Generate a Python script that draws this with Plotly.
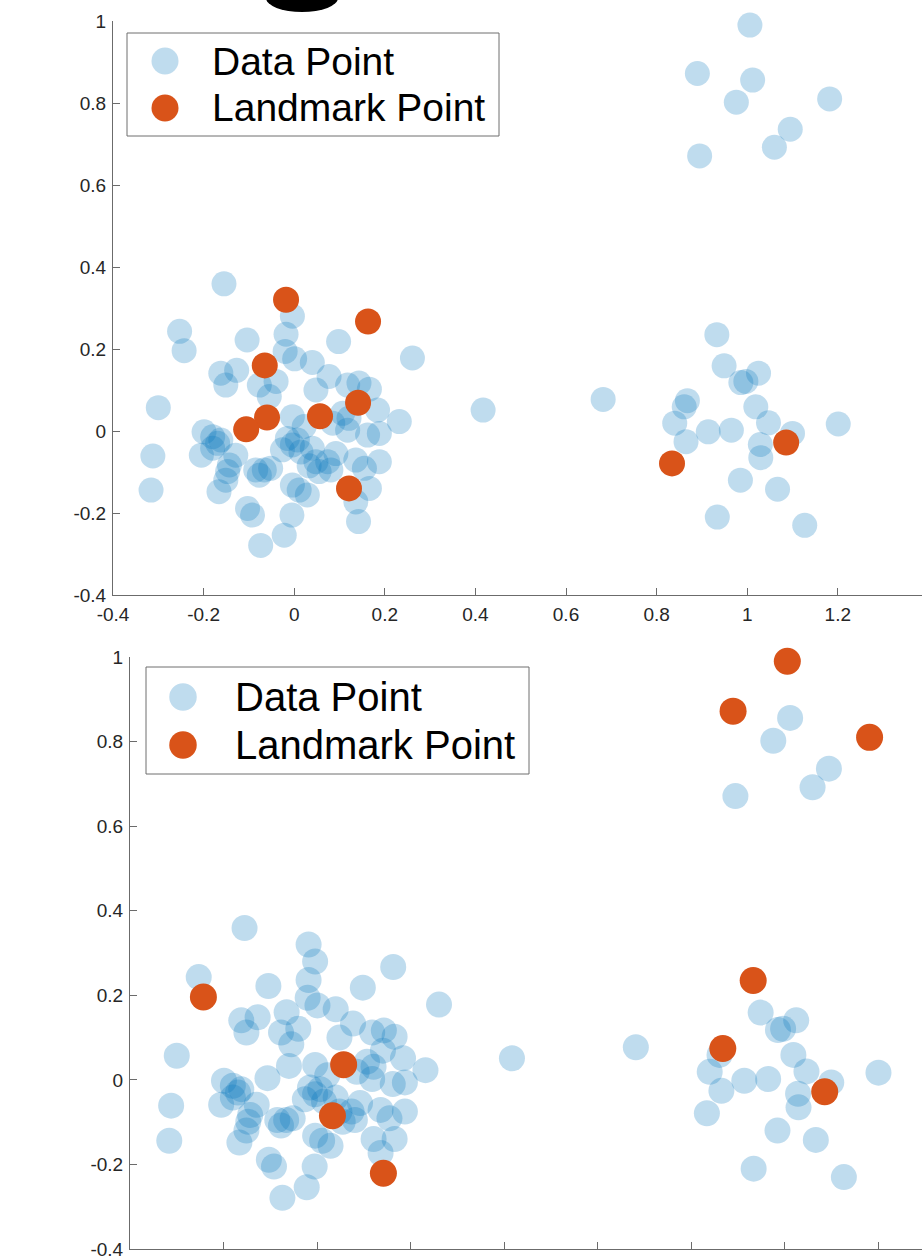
import plotly.graph_objects as go

# ---------------- data ----------------
data_x = [
    -0.155, -0.253, -0.243, -0.300, -0.312, -0.316, -0.104, -0.004, -0.018, -0.020,
    0.001, 0.040, 0.098, 0.261, 0.417, 0.077, 0.048, -0.162, -0.127, -0.151,
    -0.077, -0.040, -0.055, 0.118, 0.143, 0.166, 0.184, 0.232, 0.107, 0.121,
    0.085, 0.118, 0.162, 0.188, -0.004, 0.022, -0.015, -0.004, 0.007, 0.015,
    -0.199, -0.180, -0.169, -0.162, -0.180, -0.205, -0.129, -0.143, -0.147, -0.151,
    -0.166, -0.103, -0.092, -0.074, -0.022, -0.005, -0.085, -0.066, -0.052, -0.077,
    -0.004, 0.011, 0.029, 0.033, 0.048, 0.055, 0.074, 0.081, 0.092, 0.136,
    0.155, 0.188, 0.166, 0.136, 0.142, 0.040, -0.026,
    -0.018, 0.163, -0.065, -0.060, -0.106, 0.057, 0.141, 0.121,
    0.682,
    0.933, 0.949, 1.025, 0.997, 0.986, 0.868, 0.861, 0.840, 0.865, 0.914,
    0.965, 1.019, 1.047, 1.100, 1.029, 1.030, 0.985, 1.067, 0.934, 1.127,
    1.201, 0.834, 1.086,
    1.006, 0.890, 1.012, 0.976, 1.182, 1.095, 1.060, 0.895,
]
data_y = [
    0.359, 0.243, 0.196, 0.057, -0.061, -0.144, 0.222, 0.280, 0.236, 0.194,
    0.176, 0.167, 0.218, 0.178, 0.051, 0.133, 0.100, 0.141, 0.148, 0.112,
    0.112, 0.121, 0.084, 0.112, 0.117, 0.102, 0.051, 0.023, 0.043, 0.031,
    0.019, 0.002, -0.010, -0.006, 0.035, 0.011, -0.018, -0.034, -0.022, -0.051,
    -0.002, -0.014, -0.030, -0.022, -0.042, -0.059, -0.059, -0.083, -0.099, -0.120,
    -0.148, -0.189, -0.205, -0.279, -0.254, -0.205, -0.095, -0.095, -0.091, -0.108,
    -0.132, -0.144, -0.156, -0.085, -0.075, -0.099, -0.075, -0.095, -0.055, -0.071,
    -0.091, -0.075, -0.140, -0.173, -0.221, -0.042, -0.046,
    0.320, 0.267, 0.160, 0.033, 0.004, 0.036, 0.069, -0.140,
    0.077,
    0.235, 0.159, 0.141, 0.121, 0.118, 0.074, 0.059, 0.019, -0.026, -0.002,
    0.002, 0.059, 0.020, -0.006, -0.033, -0.065, -0.120, -0.142, -0.210, -0.230,
    0.017, -0.079, -0.028,
    0.990, 0.872, 0.856, 0.802, 0.810, 0.736, 0.692, 0.671,
]

top_landmark_x = [-0.018, 0.163, -0.065, -0.060, -0.106, 0.057, 0.141, 0.121, 0.834, 1.086]
top_landmark_y = [0.320, 0.267, 0.160, 0.033, 0.004, 0.036, 0.069, -0.140, -0.079, -0.028]

bottom_landmark_x = [-0.243, 0.057, 0.033, 0.142, 0.890, 1.006, 1.182, 0.933, 0.868, 1.086]
bottom_landmark_y = [0.196, 0.036, -0.085, -0.221, 0.872, 0.990, 0.810, 0.235, 0.074, -0.028]

x_tick_vals = [-0.4, -0.2, 0, 0.2, 0.4, 0.6, 0.8, 1.0, 1.2]
x_tick_text = ["-0.4", "-0.2", "0", "0.2", "0.4", "0.6", "0.8", "1", "1.2"]
y_tick_vals = [-0.4, -0.2, 0, 0.2, 0.4, 0.6, 0.8, 1.0]
y_tick_text = ["-0.4", "-0.2", "0", "0.2", "0.4", "0.6", "0.8", "1"]

legend_labels = ["Data Point", "Landmark Point"]

# ---------------- styles ----------------
W, H = 922, 1258
BLUE = "rgba(0,114,189,0.25)"
ORANGE = "#D95319"
AXIS_COLOR = "#6b6b6b"
FONT_FAMILY = "Liberation Sans, Arial, sans-serif"
TICK_FONT = dict(family=FONT_FAMILY, size=19, color="#262626")


def px(p):
    return p / W


def py(p):
    return 1 - p / H


# panel geometry (pixels) and scale
top_left, top_top, top_bottom = 113, 21, 595
top_xscale = 453.0
bot_left, bot_top, bot_bottom = 130, 657, 1249
bot_xscale = 467.5

top_xrange = [-0.4, -0.4 + (W - top_left) / top_xscale]
bot_xrange = [-0.4, -0.4 + (W - bot_left) / bot_xscale]

fig = go.Figure()

fig.add_trace(go.Scatter(
    x=data_x, y=data_y, mode="markers", name=legend_labels[0],
    marker=dict(size=25, color=BLUE, line=dict(width=0)),
    xaxis="x", yaxis="y", showlegend=False, cliponaxis=False))
fig.add_trace(go.Scatter(
    x=top_landmark_x, y=top_landmark_y, mode="markers", name=legend_labels[1],
    marker=dict(size=26, color=ORANGE, line=dict(width=0)),
    xaxis="x", yaxis="y", showlegend=False, cliponaxis=False))
fig.add_trace(go.Scatter(
    x=data_x, y=data_y, mode="markers", name=legend_labels[0],
    marker=dict(size=26, color=BLUE, line=dict(width=0)),
    xaxis="x2", yaxis="y2", showlegend=False, cliponaxis=False))
fig.add_trace(go.Scatter(
    x=bottom_landmark_x, y=bottom_landmark_y, mode="markers", name=legend_labels[1],
    marker=dict(size=27, color=ORANGE, line=dict(width=0)),
    xaxis="x2", yaxis="y2", showlegend=False, cliponaxis=False))

axis_common = dict(
    showline=True, linecolor=AXIS_COLOR, linewidth=1, mirror=False,
    ticks="inside", ticklen=7, tickwidth=1, tickcolor=AXIS_COLOR,
    showgrid=False, zeroline=False, tickfont=TICK_FONT, fixedrange=True,
    automargin=False, ticklabeloverflow="allow",
)

fig.update_layout(
    width=W, height=H, autosize=False,
    margin=dict(l=0, r=0, t=0, b=0, pad=0, autoexpand=False),
    paper_bgcolor="white", plot_bgcolor="white",
    showlegend=False,
    xaxis=dict(domain=[px(top_left), 1], range=top_xrange, anchor="y",
               tickvals=x_tick_vals, ticktext=x_tick_text, ticklabelstandoff=2, **axis_common),
    yaxis=dict(domain=[py(top_bottom), py(top_top)], range=[-0.4, 1], anchor="x",
               tickvals=y_tick_vals, ticktext=y_tick_text, ticklabelstandoff=2, **axis_common),
    xaxis2=dict(domain=[px(bot_left), 1], range=bot_xrange, anchor="y2",
                tickvals=x_tick_vals, ticktext=x_tick_text, showticklabels=False, **axis_common),
    yaxis2=dict(domain=[py(bot_bottom), py(bot_top)], range=[-0.4, 1], anchor="x2",
                tickvals=y_tick_vals, ticktext=y_tick_text, ticklabelstandoff=2, **axis_common),
)

shapes = []
annotations = []


def add_legend(box, rows, text_x, circle_x, diam, fsize):
    x0, y0, x1, y1 = box
    shapes.append(dict(type="rect", xref="paper", yref="paper",
                       x0=px(x0), x1=px(x1), y0=py(y1), y1=py(y0),
                       line=dict(color="#6e6e6e", width=1), fillcolor="white", layer="above"))
    for (row_y, color, label) in rows:
        r = diam / 2
        shapes.append(dict(type="circle", xref="paper", yref="paper",
                           x0=px(circle_x - r), x1=px(circle_x + r),
                           y0=py(row_y + r), y1=py(row_y - r),
                           line=dict(width=0), fillcolor=color, layer="above"))
        annotations.append(dict(
            x=px(text_x), y=py(row_y), xref="paper", yref="paper", text=label,
            showarrow=False, xanchor="left", yanchor="middle",
            font=dict(family=FONT_FAMILY, size=fsize, color="black")))


add_legend((127, 33, 499, 136),
           [(61, BLUE, legend_labels[0]), (108, ORANGE, legend_labels[1])],
           text_x=210, circle_x=165, diam=27, fsize=39)
add_legend((146, 667, 529, 774),
           [(697, BLUE, legend_labels[0]), (745, ORANGE, legend_labels[1])],
           text_x=233, circle_x=183, diam=27.5, fsize=40)

# black fragment cut off at the top edge of the picture
shapes.append(dict(type="circle", xref="paper", yref="paper",
                   x0=px(266), x1=px(338), y0=py(12), y1=py(-16),
                   line=dict(width=0), fillcolor="black", layer="above"))

fig.update_layout(shapes=shapes, annotations=annotations)

fig.write_html(
    "out.html",
    config={"displayModeBar": False, "staticPlot": True},
    post_script="document.body.style.margin='0px';document.body.style.overflow='hidden';",
)
